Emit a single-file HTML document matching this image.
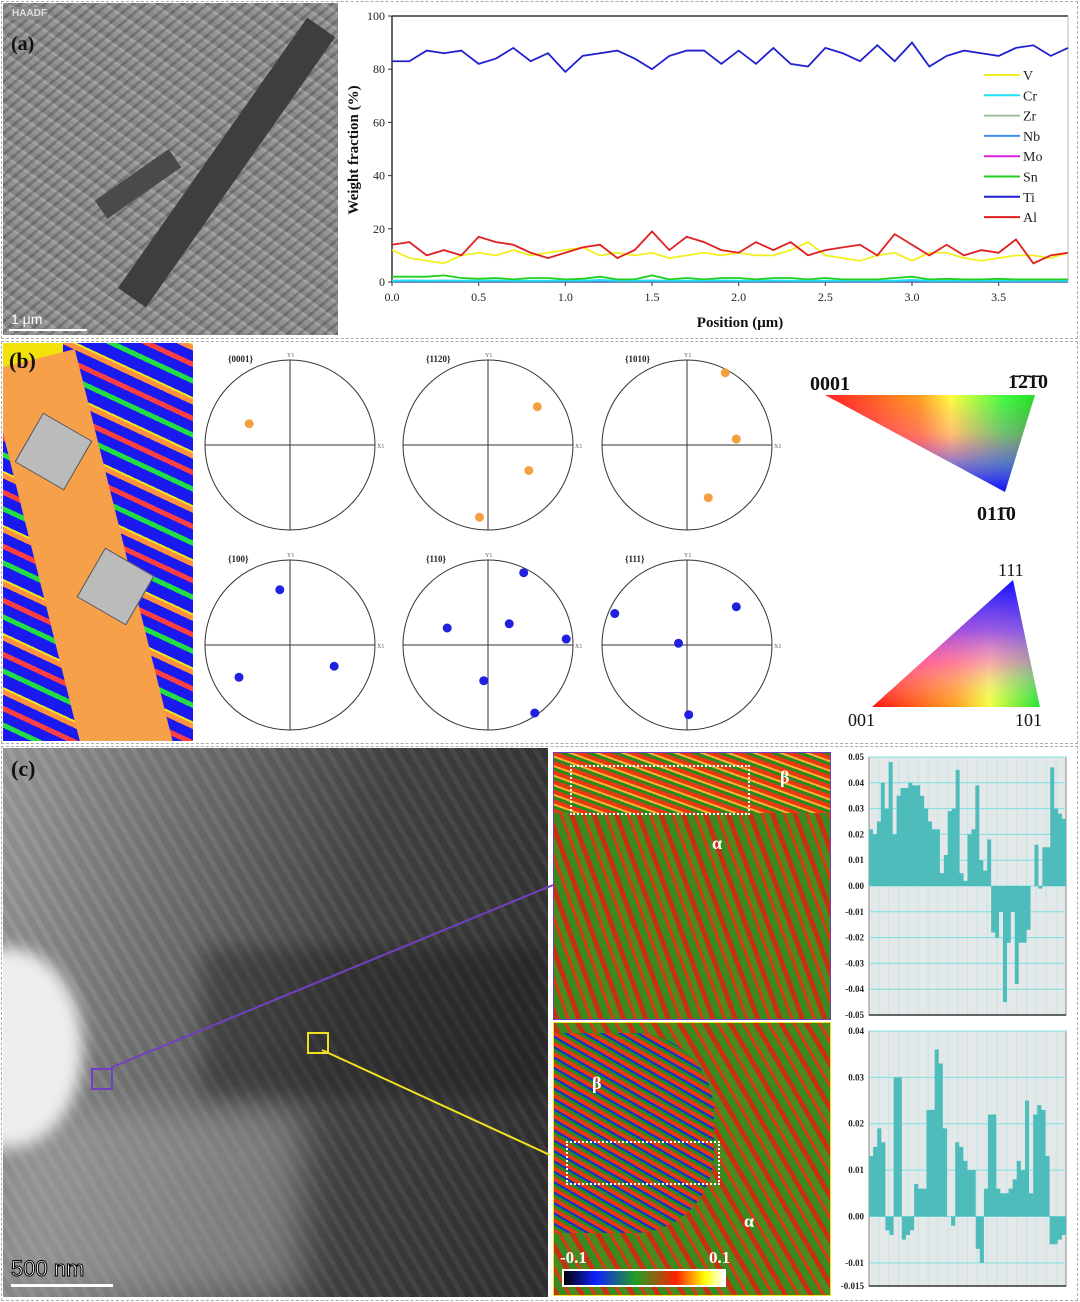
<!DOCTYPE html>
<html><head><meta charset="utf-8">
<style>
body{margin:0;width:1080px;height:1302px;background:#fff;position:relative;overflow:hidden;font-family:"Liberation Serif",serif}
.abs{position:absolute}
.panel{position:absolute;border:1px dashed #aaa}
</style></head><body>
<div class="panel" style="left:1px;top:1px;width:1075px;height:336px"></div>
<div class="panel" style="left:1px;top:341px;width:1075px;height:401px"></div>
<div class="panel" style="left:1px;top:746px;width:1075px;height:553px"></div>

<div class="abs" style="left:3px;top:3px;width:335px;height:332px;background:repeating-linear-gradient(35deg,#8a8a8a 0 6px,#9c9c9c 6px 9px,#7c7c7c 9px 14px),#888;overflow:hidden">
 <div class="abs" style="left:0;top:0;width:335px;height:332px;background:repeating-linear-gradient(-40deg,rgba(60,60,60,.25) 0 3px,rgba(200,200,200,.15) 3px 8px)"></div>
 <div class="abs" style="left:115px;top:285px;width:330px;height:34px;background:#3e3e3e;transform:rotate(-55deg);transform-origin:0 0"></div>
 <div class="abs" style="left:90px;top:170px;width:90px;height:22px;background:#4a4a4a;transform:rotate(-35deg)"></div>
 <div class="abs" style="left:8px;top:4px;font:bold 10px 'Liberation Sans',sans-serif;color:#ddd;background:#888;padding:1px">HAADF</div>
 <div class="abs" style="left:8px;top:30px;font:bold 20px 'Liberation Serif',serif;color:#111">(a)</div>
 <div class="abs" style="left:8px;top:308px;font:14px 'Liberation Sans',sans-serif;color:#fff">1 μm</div>
 <div class="abs" style="left:6px;top:326px;width:78px;height:2px;background:#fff"></div>
</div>

<svg class="abs" style="left:0;top:0" width="1080" height="340" id="lineSvg"></svg>

<div class="abs" style="left:3px;top:343px;width:190px;height:398px;overflow:hidden;background:repeating-linear-gradient(25deg,#1a1af0 0 12px,#22dd44 12px 17px,#1a1af0 17px 27px,#ff4040 27px 32px,#1a1af0 32px 42px,#ff9040 42px 47px,#e8e820 47px 49px)">
 <div class="abs" style="left:0;top:0;width:60px;height:30px;background:#f2e20a"></div>
 <div class="abs" style="left:40px;top:10px;width:90px;height:470px;background:#f7a04a;transform:rotate(-14deg);transform-origin:50% 50%"></div>
 <div class="abs" style="left:22px;top:80px;width:55px;height:55px;background:#bbb;transform:rotate(30deg);border:1px solid #555"></div>
 <div class="abs" style="left:84px;top:215px;width:55px;height:55px;background:#bbb;transform:rotate(30deg);border:1px solid #555"></div>
 <div class="abs" style="left:6px;top:5px;font:bold 22px 'Liberation Serif',serif;color:#111">(b)</div>
</div>

<svg class="abs" style="left:0;top:340px" width="1080" height="405" id="pfSvg"></svg>

<div class="abs" style="left:3px;top:748px;width:545px;height:549px;background:linear-gradient(100deg,#9a9a9a 0%,#6a6a6a 35%,#444 60%,#2e2e2e 100%);overflow:hidden">
 <div class="abs" style="left:0;top:0;width:545px;height:549px;background:repeating-linear-gradient(60deg,rgba(255,255,255,.05) 0 5px,rgba(0,0,0,.05) 5px 12px)"></div>
 <div class="abs" style="left:0;top:360px;width:300px;height:190px;background:rgba(170,170,170,.5);filter:blur(20px)"></div>
 <div class="abs" style="left:-70px;top:200px;width:150px;height:200px;background:#eee;border-radius:50%;filter:blur(8px)"></div>
 <div class="abs" style="left:200px;top:200px;width:345px;height:150px;background:rgba(20,20,20,.35);filter:blur(10px)"></div>
 <div class="abs" style="left:8px;top:8px;font:bold 22px 'Liberation Serif',serif;color:#111">(c)</div>
 <div class="abs" style="left:8px;top:508px;font:22px 'Liberation Sans',sans-serif;color:#fff;-webkit-text-stroke:1px #000">500 nm</div>
 <div class="abs" style="left:8px;top:536px;width:102px;height:3px;background:#fff"></div>
 <div class="abs" style="left:88px;top:320px;width:18px;height:18px;border:2px solid #7040c0"></div>
 <div class="abs" style="left:304px;top:284px;width:18px;height:18px;border:2px solid #f0e020"></div>
</div>
<svg class="abs" style="left:0;top:0" width="1080" height="1302" pointer-events="none">
 <line x1="110" y1="1068" x2="553" y2="885" stroke="#7040c0" stroke-width="2"/>
 <line x1="322" y1="1050" x2="550" y2="1155" stroke="#f0e020" stroke-width="2"/>
</svg>

<div class="abs" style="left:553px;top:752px;width:276px;height:266px;border:1px solid #7040c0;background:repeating-linear-gradient(70deg,#c83010 0 5px,#3a8a22 5px 12px,#d83a10 12px 15px,#4a8a20 15px 21px);overflow:hidden">
 <div class="abs" style="left:0;top:0;width:276px;height:60px;background:repeating-linear-gradient(20deg,#e83a10 0 4px,#2a8a20 4px 7px,#ffb030 7px 9px)"></div>
 <div class="abs" style="left:16px;top:12px;width:176px;height:46px;border:2px dotted #fff"></div>
 <div class="abs" style="left:226px;top:14px;font:bold 18px 'Liberation Serif',serif;color:#fff">β</div>
 <div class="abs" style="left:158px;top:80px;font:bold 18px 'Liberation Serif',serif;color:#fff">α</div>
</div>
<div class="abs" style="left:553px;top:1022px;width:276px;height:272px;border:1px solid #f0e020;background:repeating-linear-gradient(60deg,#c83010 0 5px,#3a8a22 5px 12px,#d83a10 12px 15px,#4a8a20 15px 22px);overflow:hidden">
 <div class="abs" style="left:0;top:10px;width:160px;height:200px;background:repeating-linear-gradient(30deg,#e83a10 0 4px,#2a8a20 4px 7px,#1030d0 7px 9px);border-radius:0 80px 80px 0"></div>
 <div class="abs" style="left:12px;top:118px;width:150px;height:40px;border:2px dotted #fff"></div>
 <div class="abs" style="left:38px;top:50px;font:bold 18px 'Liberation Serif',serif;color:#fff">β</div>
 <div class="abs" style="left:190px;top:188px;font:bold 18px 'Liberation Serif',serif;color:#fff">α</div>
 <div class="abs" style="left:6px;top:225px;font:bold 17px 'Liberation Serif',serif;color:#fff">-0.1</div>
 <div class="abs" style="left:155px;top:225px;font:bold 17px 'Liberation Serif',serif;color:#fff">0.1</div>
 <div class="abs" style="left:8px;top:246px;width:160px;height:14px;border:2px solid #fff;background:linear-gradient(90deg,#000,#1020ff 20%,#20a020 45%,#ff2000 70%,#ffff00 88%,#fff)"></div>
</div>

<svg class="abs" style="left:830px;top:745px" width="250" height="555" id="barSvg"></svg>

<script>
const NS='http://www.w3.org/2000/svg';
function mk(p,t,a){const e=document.createElementNS(NS,t);for(const k in a)e.setAttribute(k,a[k]);p.appendChild(e);return e;}
// ---- line chart data ----
const positions=[0,0.1,0.2,0.3,0.4,0.5,0.6,0.7,0.8,0.9,1.0,1.1,1.2,1.3,1.4,1.5,1.6,1.7,1.8,1.9,2.0,2.1,2.2,2.3,2.4,2.5,2.6,2.7,2.8,2.9,3.0,3.1,3.2,3.3,3.4,3.5,3.6,3.7,3.8,3.9];
const tiValues=[83,83,87,86,87,82,84,88,83,86,79,85,86,87,84,80,85,87,87,82,87,82,88,82,81,88,86,83,89,83,90,81,85,87,86,85,88,89,85,88];
const alValues=[14,15,10,12,10,17,15,14,11,9,11,13,14,9,12,19,12,17,15,12,11,15,12,15,10,12,13,14,10,18,14,10,14,10,12,11,16,7,10,11];
const vValues=[12,9,8,7,10,11,10,12,10,11,12,13,10,11,10,11,9,10,11,10,11,10,10,12,15,10,9,8,10,11,8,11,11,9,8,9,10,10,9,11];
const snValues=[2,2,2,2.5,1.5,1.2,1.5,1,1.5,1.5,1,1.2,2,1,1,2.5,1,1.5,1,1.5,1.5,1,1.5,1.5,1,1.5,1,1,1,1.5,2,1,1.2,1,1,1.2,1,1,1,1];
const crValues=[0.5,0.6,0.5,0.6,0.5,0.5,0.6,0.5,0.5,0.5,0.6,0.5,0.8,0.5,0.5,0.6,0.5,0.5,0.5,0.6,0.5,0.5,0.6,0.5,0.5,0.5,0.5,0.6,0.5,0.5,0.8,0.5,0.5,0.5,0.5,0.5,0.5,0.5,0.5,0.5];
const smallValues=[0.2,0.2,0.2,0.2,0.2,0.2,0.2,0.2,0.2,0.2,0.2,0.2,0.2,0.2,0.2,0.2,0.2,0.2,0.2,0.2,0.2,0.2,0.2,0.2,0.2,0.2,0.2,0.2,0.2,0.2,0.2,0.2,0.2,0.2,0.2,0.2,0.2,0.2,0.2,0.2];
const xTicks=[0,0.5,1.0,1.5,2.0,2.5,3.0,3.5];
const yTicks=[0,20,40,60,80,100];
const legendNames=['V','Cr','Zr','Nb','Mo','Sn','Ti','Al'];
const legendColors=['#f0f020','#20e0f0','#a0c0a0','#4090f0','#e020e0','#20d020','#2020d0','#e02020'];
(function(){
 const s=document.getElementById('lineSvg');
 const X0=392,X1=1068,Y0=282,Y1=16;
 const xs=v=>X0+v/3.9*(X1-X0), ys=v=>Y0-v/100*(Y0-Y1);
 mk(s,'line',{x1:X0,y1:Y1,x2:X1,y2:Y1,stroke:'#333','stroke-width':1.5});
 mk(s,'line',{x1:X0,y1:Y0,x2:X1,y2:Y0,stroke:'#333','stroke-width':1.5});
 mk(s,'line',{x1:X0,y1:Y0,x2:X0,y2:Y1,stroke:'#333','stroke-width':1.5});
 mk(s,'line',{x1:X1,y1:Y0,x2:X1,y2:Y1,stroke:'#bbb','stroke-width':1});
 xTicks.forEach(t=>{mk(s,'line',{x1:xs(t),y1:Y0,x2:xs(t),y2:Y0+4,stroke:'#333'});const e=mk(s,'text',{x:xs(t),y:Y0+19,'text-anchor':'middle','font-size':12,fill:'#222'});e.textContent=t.toFixed(1);});
 yTicks.forEach(t=>{mk(s,'line',{x1:X0-4,y1:ys(t),x2:X0,y2:ys(t),stroke:'#333'});const e=mk(s,'text',{x:X0-7,y:ys(t)+4,'text-anchor':'end','font-size':12,fill:'#222'});e.textContent=t;});
 const xt=mk(s,'text',{x:740,y:327,'text-anchor':'middle','font-size':15,'font-weight':'bold',fill:'#111'});xt.textContent='Position (μm)';
 const yt=mk(s,'text',{x:358,y:150,'text-anchor':'middle','font-size':15,'font-weight':'bold',fill:'#111',transform:'rotate(-90 358 150)'});yt.textContent='Weight fraction (%)';
 const series=[[smallValues,'#e020e0'],[smallValues,'#4090f0'],[crValues,'#20e0f0'],[snValues,'#20d020'],[vValues,'#f0f020'],[alValues,'#e02020'],[tiValues,'#2020d0']];
 series.forEach(([vals,c])=>{const p=mk(s,'polyline',{points:vals.map((v,i)=>xs(positions[i])+','+ys(v)).join(' '),fill:'none',stroke:c,'stroke-width':1.8});});
 legendNames.forEach((n,i)=>{const y=75+i*20.3;mk(s,'line',{x1:984,y1:y,x2:1020,y2:y,stroke:legendColors[i],'stroke-width':2});const e=mk(s,'text',{x:1023,y:y+5,'font-size':14,fill:'#222'});e.textContent=n;});
})();
// ---- pole figures ----
const pfLabels=['{0001}','{1120}','{1010}','{100}','{110}','{111}'];
const pfSpots=[[[-0.48,-0.25]],[[0.58,-0.45],[0.48,0.3],[-0.1,0.85]],[[0.45,-0.85],[0.58,-0.07],[0.25,0.62]],[[-0.12,-0.65],[-0.6,0.38],[0.52,0.25]],[[0.42,-0.85],[0.25,-0.25],[-0.48,-0.2],[0.92,-0.07],[-0.05,0.42],[0.55,0.8]],[[-0.85,-0.37],[0.58,-0.45],[-0.1,-0.02],[0.02,0.82]]];
(function(){
 const s=document.getElementById('pfSvg');
 const cx=[290,488,687],cy=[105,305],R=85;
 pfLabels.forEach((lab,k)=>{const x=cx[k%3],y=cy[Math.floor(k/3)];
  mk(s,'circle',{cx:x,cy:y,r:R,fill:'none',stroke:'#333','stroke-width':1});
  mk(s,'line',{x1:x-R,y1:y,x2:x+R,y2:y,stroke:'#333'});mk(s,'line',{x1:x,y1:y-R,x2:x,y2:y+R,stroke:'#333'});
  const t=mk(s,'text',{x:x-62,y:y-83,'font-size':9,'font-weight':'bold',fill:'#222'});t.textContent=lab;
  const a=mk(s,'text',{x:x-3,y:y-88,'font-size':6,fill:'#555'});a.textContent='Y1';
  const b=mk(s,'text',{x:x+R+2,y:y+3,'font-size':6,fill:'#555'});b.textContent='X1';
  pfSpots[k].forEach(p=>{const c=mk(s,'circle',{cx:x+p[0]*R,cy:y+p[1]*R,r:4.5,fill:k<3?'#f4a040':'#2020e0'});});
 });
 const d=mk(s,'defs',{});
 const g1=mk(d,'linearGradient',{id:'g1',x1:0,y1:0,x2:1,y2:0});
 [['0','#ff2020'],['0.45','#ffa020'],['0.6','#ffff40'],['0.85','#40ff40'],['1','#20e020']].forEach(a=>mk(g1,'stop',{offset:a[0],'stop-color':a[1]}));
 const g1b=mk(d,'linearGradient',{id:'g1b',x1:0,y1:0,x2:0,y2:1});
 [['0','#ff00ff','0'],['0.4','#ff00ff','0.25'],['0.7','#6040ff','0.7'],['1','#1010ff','1']].forEach(a=>mk(g1b,'stop',{offset:a[0],'stop-color':a[1],'stop-opacity':a[2]}));
 mk(s,'polygon',{points:'825,55 1035,55 1005,152',fill:'url(#g1)'});
 mk(s,'polygon',{points:'825,55 1035,55 1005,152',fill:'url(#g1b)'});
 const g2=mk(d,'linearGradient',{id:'g2',x1:0,y1:0,x2:1,y2:0});
 [['0','#ff1010'],['0.5','#ffa020'],['0.7','#f0ff40'],['1','#20e030']].forEach(a=>mk(g2,'stop',{offset:a[0],'stop-color':a[1]}));
 const g2b=mk(d,'linearGradient',{id:'g2b',x1:0,y1:1,x2:0,y2:0});
 [['0','#ffffff','0'],['0.35','#ff60ff','0.55'],['0.6','#9040ff','0.85'],['1','#1010ff','1']].forEach(a=>mk(g2b,'stop',{offset:a[0],'stop-color':a[1],'stop-opacity':a[2]}));
 mk(s,'polygon',{points:'872,367 1040,367 1013,240',fill:'url(#g2)'});
 mk(s,'polygon',{points:'872,367 1040,367 1013,240',fill:'url(#g2b)'});
 [['0001',810,50,20,'bold'],['1\u03042\u03041\u03040',1008,48,20,'bold'],['011\u03040',977,180,20,'bold'],['111',998,236,18,'normal'],['001',848,386,18,'normal'],['101',1015,386,18,'normal']].forEach(a=>{const t=mk(s,'text',{x:a[1],y:a[2],'font-size':a[3],'font-weight':a[4],fill:'#111'});t.textContent=a[0];});
})();
// ---- strain profiles ----
const topStrain=[0.022,0.02,0.025,0.04,0.03,0.048,0.02,0.035,0.038,0.038,0.04,0.039,0.039,0.035,0.03,0.025,0.022,0.022,0.005,0.012,0.029,0.03,0.045,0.005,0.002,0.02,0.022,0.039,0.01,0.006,0.018,-0.018,-0.02,-0.01,-0.045,-0.022,-0.01,-0.038,-0.022,-0.022,-0.017,0,0.016,-0.001,0.015,0.015,0.046,0.03,0.028,0.026];
const bottomStrain=[0.013,0.015,0.019,0.016,-0.003,-0.004,0.03,0.03,-0.005,-0.004,-0.003,0.007,0.006,0.006,0.023,0.023,0.036,0.033,0.019,0,-0.002,0.016,0.015,0.012,0.01,0.01,-0.007,-0.01,0.006,0.022,0.022,0.006,0.005,0.005,0.006,0.008,0.012,0.01,0.025,0.005,0.022,0.024,0.023,0.013,-0.006,-0.006,-0.005,-0.004];
const topTicks=[0.05,0.04,0.03,0.02,0.01,0,-0.01,-0.02,-0.03,-0.04,-0.05];
const bottomTicks=[0.04,0.03,0.02,0.01,0,-0.01,-0.015];
(function(){
 const s=document.getElementById('barSvg');
 function chart(vals,ticks,yTop,yBot,vmax,vmin,fmt){
  const X0=39,X1=236;const ys=v=>yTop+(vmax-v)/(vmax-vmin)*(yBot-yTop);
  mk(s,'rect',{x:X0,y:yTop,width:X1-X0,height:yBot-yTop,fill:'#e4e8e8',stroke:'#888'});
  for(let i=1;i<20;i++)mk(s,'line',{x1:X0+i*(X1-X0)/20,y1:yTop,x2:X0+i*(X1-X0)/20,y2:yBot,stroke:'#bfe8e8','stroke-width':1});
  ticks.forEach(t=>{mk(s,'line',{x1:X0,y1:ys(t),x2:X1,y2:ys(t),stroke:'#7ee0e0','stroke-width':1});const e=mk(s,'text',{x:X0-5,y:ys(t)+3,'text-anchor':'end','font-size':9,'font-weight':'bold',fill:'#222'});e.textContent=fmt(t);});
  const n=vals.length,w=(X1-X0)/n;let d='M'+X0+','+ys(0);
  vals.forEach((v,i)=>{d+=' L'+(X0+i*w)+','+ys(v)+' L'+(X0+(i+1)*w)+','+ys(v);});
  d+=' L'+X1+','+ys(0)+' Z';
  const p=mk(s,'path',{d:d,fill:'#4fbcbc'});
  mk(s,'line',{x1:X0,y1:yBot,x2:X1,y2:yBot,stroke:'#333','stroke-width':1.5});
 }
 chart(topStrain,topTicks,12,270,0.05,-0.05,t=>t.toFixed(2));
 chart(bottomStrain,bottomTicks,286,541,0.04,-0.015,t=>t===-0.015?'-0.015':t.toFixed(2));
})();
</script>
</body></html>
